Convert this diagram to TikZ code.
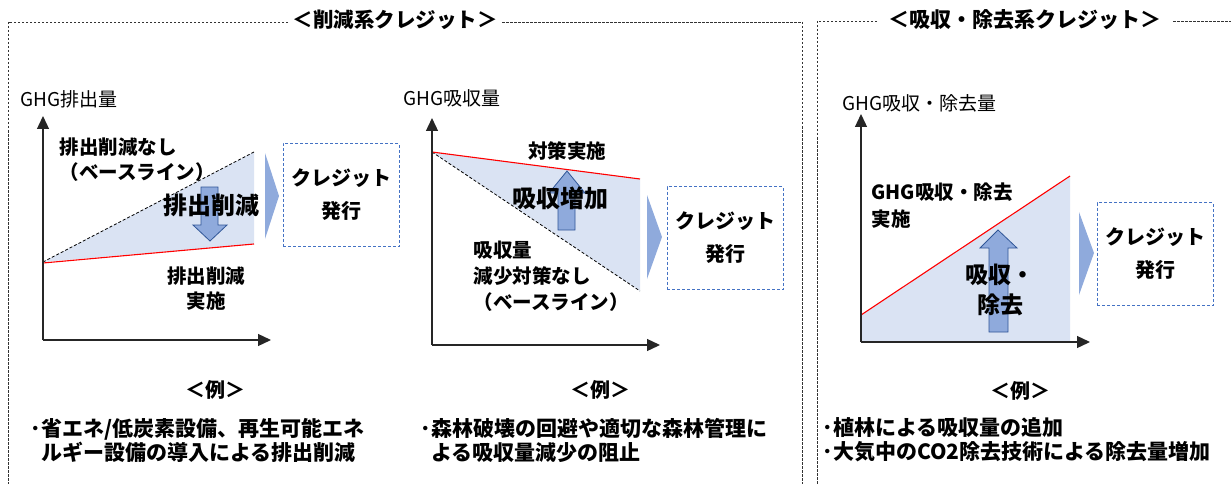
\documentclass[tikz,border=0pt]{standalone}
\usepackage{fontspec}
\setmainfont{Noto Sans CJK JP}
\usetikzlibrary{arrows.meta}
\definecolor{lightfill}{HTML}{DAE3F3}
\definecolor{arrfill}{HTML}{8FAADC}
\definecolor{arrline}{HTML}{2F5597}
\definecolor{boxline}{HTML}{4472C4}
\tikzset{
  frame/.style={draw=black!80, line width=0.8pt, dash pattern=on 2.5pt off 1.5pt},
  axis/.style={draw=black!85, line width=1.3pt, -{Triangle[length=13pt,width=12pt]}},
  base/.style={draw=black, line width=0.8pt, dash pattern=on 3pt off 2pt},
  redline/.style={draw=red, line width=1.1pt},
  area/.style={fill=lightfill},
  blockarr/.style={fill=arrfill, draw=arrline, line width=0.8pt},
  chevron/.style={fill=arrfill},
  creditbox/.style={draw=boxline, line width=0.9pt, dash pattern=on 3pt off 2pt, minimum width=116pt, minimum height=103pt, inner sep=0pt},
  title/.style={font=\fontsize{20.5}{24}\selectfont\bfseries},
  axlabel/.style={font=\fontsize{19}{22}\selectfont, anchor=west},
  lbl/.style={font=\fontsize{19.5}{25}\selectfont\bfseries, align=left},
  big/.style={font=\fontsize{24}{30}\selectfont\bfseries, align=center},
  credit/.style={font=\fontsize{20}{33}\selectfont\bfseries, align=center},
  ex/.style={font=\fontsize{21}{24}\selectfont\bfseries, align=left, anchor=west},
  extitle/.style={font=\fontsize{20}{24}\selectfont\bfseries},
}
\begin{document}
\begin{tikzpicture}[x=1pt,y=-1pt]
\useasboundingbox (0,0) rectangle (1231,484);
% frames
\draw[frame] (288,22) -- (8,22) -- (8,490);
\draw[frame] (502,22) -- (802,22) -- (802,490);
\node[title] (t1) at (395,20) {＜削減系クレジット＞};
\draw[frame] (877,21) -- (817,21) -- (817,490);
\draw[frame] (1173,21) -- (1240,21);
\node[title, font=\fontsize{21}{24}\selectfont\bfseries] (t2) at (1025,20) {＜吸収・除去系クレジット＞};

% ===== chart 1 =====
\coordinate (o1) at (43,340);
\fill[area] (43,262) -- (254,152) -- (254,244) -- cycle;
\draw[base] (43,262) -- (254,152);
\draw[redline] (43,263) -- (254,244);
\draw[axis] (o1) -- (43,116);
\draw[axis] (o1) -- (271,340);
\node[axlabel] (y1) at (17,99) {GHG排出量};
\node[lbl, anchor=west] (b1) at (56,160) {排出削減なし\\（ベースライン）};
\draw[blockarr] (201,187) -- (218,187) -- (218,225) -- (227,225) -- (210,241) -- (193,225) -- (201,225) -- cycle;
\node[big] (r1) at (211,205) {排出削減};
\node[lbl, align=center] (a1) at (206,289) {排出削減\\実施};
\fill[chevron] (265,153) -- (279,196) -- (265,239) -- cycle;
\node[creditbox] (c1) at (341,195) {};
\node[credit] at (c1) {クレジット\\発行};

% ===== chart 2 =====
\coordinate (o2) at (432,345);
\fill[area] (432,152) -- (640,179) -- (640,291) -- cycle;
\draw[base] (432,152) -- (640,291);
\draw[redline] (432,152) -- (640,179);
\draw[axis] (o2) -- (432,118);
\draw[axis] (o2) -- (660,345);
\node[axlabel] (y2) at (400,98) {GHG吸収量};
\node[lbl] (s2) at (567,151) {対策実施};
\draw[blockarr] (558,230) -- (575,230) -- (575,193) -- (585,193) -- (567,171) -- (549,193) -- (558,193) -- cycle;
\node[big] (r2) at (560,198) {吸収増加};
\node[lbl, anchor=north west, font=\fontsize{19.5}{26}\selectfont\bfseries] (b2) at (470,237) {吸収量\\減少対策なし\\（ベースライン）};
\fill[chevron] (647,195) -- (662,237) -- (647,279) -- cycle;
\node[creditbox] (c2) at (725,238) {};
\node[credit] at (c2) {クレジット\\発行};

% ===== chart 3 =====
\coordinate (o3) at (861,342);
\fill[area] (861,315) -- (1070,176) -- (1070,342) -- (861,342) -- cycle;
\draw[redline] (861,315) -- (1070,176);
\draw[axis] (o3) -- (861,114);
\draw[axis] (o3) -- (1090,342);
\node[axlabel] (y3) at (839,103) {GHG吸収・除去量};
\node[lbl, anchor=north west, font=\fontsize{19.5}{27}\selectfont\bfseries] (a3) at (868,179) {GHG吸収・除去\\実施};
\draw[blockarr] (989,332) -- (1008,332) -- (1008,248) -- (1017,248) -- (998,230) -- (980,248) -- (989,248) -- cycle;
\node[big, font=\fontsize{23}{30}\selectfont\bfseries] (r3) at (1000,290) {吸収・\\除去};
\fill[chevron] (1079,212) -- (1094,253) -- (1079,295) -- cycle;
\node[creditbox] (c3) at (1155,254) {};
\node[credit] at (c3) {クレジット\\発行};

% ===== examples =====
\node[extitle] (e1) at (215,390) {＜例＞};
\node[extitle] (e2) at (600,390) {＜例＞};
\node[extitle] (e3) at (1020,391) {＜例＞};
\node[ex] (x1) at (27,440) {･省エネ/低炭素設備、再生可能エネ\\\hspace*{0.5em}ルギー設備の導入による排出削減};
\node[ex] (x2) at (417,440) {･森林破壊の回避や適切な森林管理に\\\hspace*{0.5em}よる吸収量減少の阻止};
\node[ex] (x3) at (819,440) {･植林による吸収量の追加\\･大気中のCO2除去技術による除去量増加};
\end{tikzpicture}
\end{document}
